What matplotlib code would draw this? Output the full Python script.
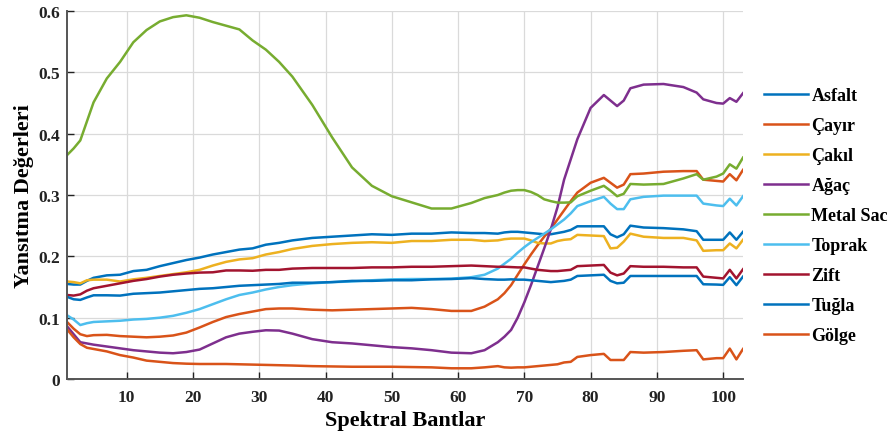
import matplotlib
matplotlib.use("Agg")
import matplotlib.pyplot as plt

# sampled spectral bands
bands = [1, 2, 3, 4, 5, 7, 9, 11, 13, 15, 17, 19, 21, 23, 25, 27, 29, 31, 33, 35,
         38, 41, 44, 47, 50, 53, 56, 59, 62, 64, 66, 67, 68, 69, 70, 71, 72, 73,
         74, 75, 76, 77, 78, 80, 82, 83, 84, 85, 86, 88, 91, 94, 96, 97, 99, 100,
         101, 102, 103]

asfalt = [0.155, 0.154, 0.154, 0.160, 0.165, 0.169, 0.170, 0.176, 0.178, 0.184,
          0.189, 0.194, 0.198, 0.203, 0.207, 0.211, 0.213, 0.219, 0.222, 0.226,
          0.230, 0.232, 0.234, 0.236, 0.235, 0.237, 0.237, 0.239, 0.238, 0.238,
          0.237, 0.239, 0.240, 0.240, 0.239, 0.238, 0.237, 0.236, 0.236, 0.238,
          0.240, 0.243, 0.249, 0.249, 0.249, 0.236, 0.231, 0.236, 0.250, 0.247,
          0.246, 0.244, 0.241, 0.227, 0.227, 0.227, 0.239, 0.227, 0.240]

cayir = [0.093, 0.082, 0.073, 0.070, 0.0715, 0.072, 0.070, 0.069, 0.068, 0.069,
         0.071, 0.0757, 0.084, 0.093, 0.101, 0.106, 0.110, 0.114, 0.115, 0.115,
         0.113, 0.112, 0.113, 0.114, 0.115, 0.116, 0.114, 0.111, 0.111, 0.118,
         0.130, 0.140, 0.153, 0.170, 0.187, 0.203, 0.218, 0.232, 0.245, 0.260,
         0.275, 0.290, 0.304, 0.320, 0.328, 0.320, 0.312, 0.317, 0.334, 0.335,
         0.338, 0.339, 0.339, 0.325, 0.323, 0.322, 0.334, 0.324, 0.341]

cakil = [0.159, 0.158, 0.156, 0.161, 0.162, 0.162, 0.159, 0.1625, 0.165, 0.168,
         0.171, 0.174, 0.178, 0.185, 0.191, 0.195, 0.197, 0.203, 0.207, 0.212,
         0.217, 0.220, 0.222, 0.223, 0.222, 0.225, 0.225, 0.227, 0.227, 0.225,
         0.226, 0.228, 0.229, 0.229, 0.229, 0.226, 0.222, 0.221, 0.221, 0.225,
         0.227, 0.228, 0.235, 0.234, 0.233, 0.213, 0.214, 0.224, 0.237, 0.232,
         0.230, 0.230, 0.226, 0.209, 0.210, 0.210, 0.221, 0.213, 0.227]

agac = [0.086, 0.073, 0.060, 0.058, 0.056, 0.053, 0.050, 0.047, 0.045, 0.043,
        0.042, 0.044, 0.048, 0.058, 0.068, 0.074, 0.077, 0.0795, 0.079, 0.074,
        0.065, 0.060, 0.058, 0.055, 0.052, 0.050, 0.047, 0.043, 0.042, 0.047,
        0.060, 0.069, 0.080, 0.100, 0.125, 0.153, 0.183, 0.213, 0.244, 0.280,
        0.325, 0.358, 0.391, 0.442, 0.463, 0.454, 0.445, 0.454, 0.474, 0.480,
        0.481, 0.476, 0.467, 0.456, 0.450, 0.449, 0.458, 0.452, 0.466]

metal_sac = [0.365, 0.376, 0.389, 0.420, 0.451, 0.490, 0.517, 0.549, 0.569, 0.583,
             0.590, 0.593, 0.589, 0.582, 0.576, 0.570, 0.552, 0.537, 0.517, 0.493,
             0.447, 0.394, 0.345, 0.315, 0.298, 0.288, 0.278, 0.278, 0.287, 0.295,
             0.300, 0.304, 0.307, 0.308, 0.308, 0.305, 0.300, 0.293, 0.290, 0.2876,
             0.2876, 0.288, 0.298, 0.307, 0.315, 0.307, 0.298, 0.302, 0.318, 0.317,
             0.318, 0.327, 0.334, 0.325, 0.330, 0.335, 0.350, 0.343, 0.361]

toprak = [0.104, 0.097, 0.088, 0.091, 0.093, 0.094, 0.095, 0.097, 0.098, 0.100,
          0.103, 0.108, 0.114, 0.122, 0.130, 0.137, 0.141, 0.146, 0.150, 0.153,
          0.156, 0.158, 0.159, 0.161, 0.1625, 0.163, 0.163, 0.1637, 0.166, 0.170,
          0.180, 0.188, 0.196, 0.206, 0.215, 0.223, 0.230, 0.237, 0.244, 0.252,
          0.260, 0.270, 0.282, 0.290, 0.297, 0.286, 0.277, 0.277, 0.293, 0.297,
          0.299, 0.299, 0.299, 0.286, 0.283, 0.282, 0.294, 0.283, 0.298]

zift = [0.137, 0.136, 0.138, 0.144, 0.148, 0.152, 0.156, 0.160, 0.163, 0.167,
        0.170, 0.172, 0.1735, 0.174, 0.177, 0.177, 0.1765, 0.178, 0.178, 0.180,
        0.181, 0.181, 0.181, 0.182, 0.182, 0.183, 0.183, 0.184, 0.185, 0.184,
        0.183, 0.183, 0.1825, 0.182, 0.182, 0.180, 0.178, 0.177, 0.176, 0.176,
        0.177, 0.178, 0.184, 0.185, 0.186, 0.1735, 0.169, 0.172, 0.184, 0.183,
        0.183, 0.182, 0.182, 0.167, 0.165, 0.164, 0.178, 0.164, 0.179]

tugla = [0.134, 0.130, 0.129, 0.133, 0.1365, 0.1365, 0.136, 0.139, 0.140, 0.141,
         0.143, 0.145, 0.147, 0.148, 0.150, 0.152, 0.153, 0.154, 0.155, 0.157,
         0.157, 0.158, 0.160, 0.160, 0.161, 0.161, 0.1625, 0.163, 0.1645, 0.163,
         0.162, 0.162, 0.1625, 0.162, 0.162, 0.161, 0.160, 0.159, 0.158, 0.159,
         0.160, 0.162, 0.168, 0.169, 0.170, 0.160, 0.156, 0.157, 0.168, 0.168,
         0.168, 0.168, 0.168, 0.1545, 0.154, 0.1535, 0.166, 0.153, 0.167]

golge = [0.081, 0.068, 0.057, 0.051, 0.049, 0.045, 0.039, 0.035, 0.030, 0.028,
         0.026, 0.025, 0.0245, 0.0245, 0.0245, 0.024, 0.0235, 0.023, 0.0225, 0.022,
         0.021, 0.0205, 0.020, 0.020, 0.020, 0.0195, 0.019, 0.0175, 0.0175, 0.019,
         0.021, 0.019, 0.0185, 0.019, 0.019, 0.020, 0.021, 0.022, 0.023, 0.024,
         0.027, 0.028, 0.036, 0.039, 0.041, 0.031, 0.031, 0.031, 0.044, 0.043,
         0.044, 0.046, 0.047, 0.032, 0.034, 0.034, 0.0496, 0.032, 0.049]

labels = ['Asfalt', 'Çayır', 'Çakıl', 'Ağaç', 'Metal Sac',
          'Toprak', 'Zift', 'Tuğla', 'Gölge']
series = [asfalt, cayir, cakil, agac, metal_sac, toprak, zift, tugla, golge]
colors = ['#0072BD', '#D95319', '#EDB120', '#7E2F8E', '#77AC30',
          '#4DBEEE', '#A2142F', '#0072BD', '#D95319']

plt.rcParams['font.family'] = ['Liberation Serif', 'DejaVu Serif']
plt.rcParams['font.weight'] = 'bold'

fig = plt.figure(figsize=(8.95, 4.35), dpi=100)
ax = fig.add_axes([0.0749, 0.1264, 0.7553, 0.846])

for vals, lab, col in zip(series, labels, colors):
    ax.plot(bands, vals, color=col, lw=1.8, label=lab)

ax.set_xlim(1, 103)
ax.set_ylim(0, 0.6)
ax.set_xticks(range(10, 101, 10))
ax.set_yticks([0, 0.1, 0.2, 0.3, 0.4, 0.5, 0.6])
ax.set_yticklabels(['0', '0.1', '0.2', '0.3', '0.4', '0.5', '0.6'])
ax.grid(True, color='#dadada', lw=0.9)
ax.set_axisbelow(True)

for s in ['top', 'right']:
    ax.spines[s].set_visible(False)
for s in ['left', 'bottom']:
    ax.spines[s].set_color('#555555')
    ax.spines[s].set_linewidth(1.4)

ax.tick_params(direction='in', length=5, width=1, colors='#222222',
               labelsize=12.5)
ax.tick_params(axis='x', pad=7)
ax.tick_params(axis='y', pad=5)
for t in ax.get_xticklabels() + ax.get_yticklabels():
    t.set_fontweight('bold')

ax.set_xlabel('Spektral Bantlar', fontsize=16, fontweight='bold', labelpad=4)
ax.set_ylabel('Yansıtma Değerleri', fontsize=16, fontweight='bold', labelpad=3)

fig.legend(loc='center left', bbox_to_anchor=(0.843, 0.502), frameon=False,
           prop={'weight': 'bold', 'size': 13}, handlelength=2.45,
           handletextpad=0.2, labelspacing=0.72, borderpad=0)

fig.savefig('out.png', dpi=100)
